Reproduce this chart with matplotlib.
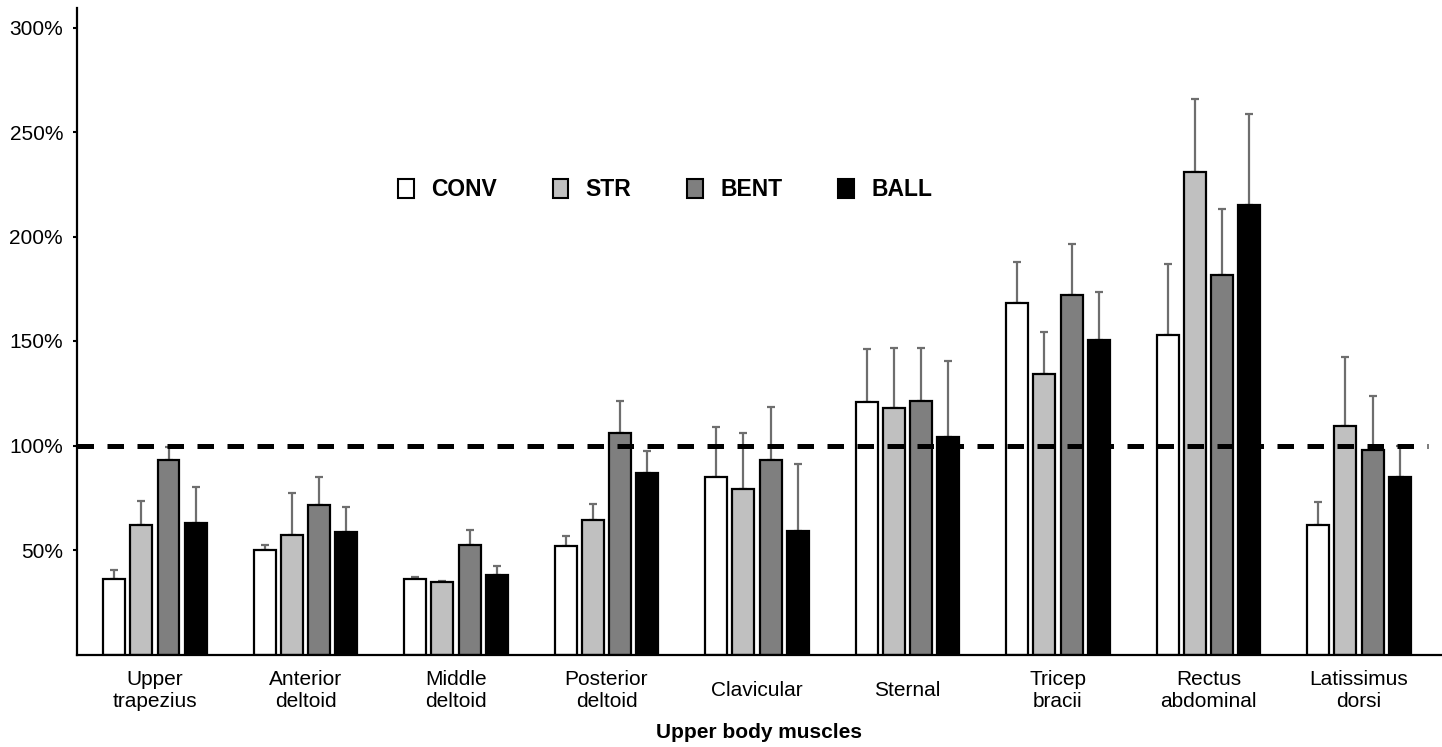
import numpy as np
import matplotlib
matplotlib.use('Agg')
import matplotlib.pyplot as plt
from matplotlib.patches import Rectangle
from matplotlib.ticker import FuncFormatter

plt.rcParams['font.family'] = ['Liberation Sans', 'DejaVu Sans']

# data (% values)
muscles = ['Upper\ntrapezius', 'Anterior\ndeltoid', 'Middle\ndeltoid', 'Posterior\ndeltoid',
           'Clavicular', 'Sternal', 'Tricep\nbracii', 'Rectus\nabdominal', 'Latissimus\ndorsi']
series = ['CONV', 'STR', 'BENT', 'BALL']

conv = [36, 50, 36, 52, 85, 121, 168, 153, 62]
conv_err = [4.5, 2.5, 1, 4.5, 24, 25, 20, 34, 11]
strv = [62, 57, 34.5, 64.5, 79, 118, 134, 231, 109.5]
str_err = [11.5, 20.5, 0.8, 7.5, 27, 28.5, 20.5, 35, 33]
bent = [93, 71.5, 52.5, 106, 93, 121.5, 172, 181.5, 98]
bent_err = [6.5, 13.5, 7, 15.5, 25.5, 25, 24.5, 31.5, 25.5]
ball = [63, 58.5, 38, 87, 59, 104, 150.5, 215, 85]
ball_err = [17, 12, 4.5, 10.5, 32, 36.5, 23, 43.5, 15]

values = [conv, strv, bent, ball]
errors = [conv_err, str_err, bent_err, ball_err]
colors = ['white', '#c0c0c0', '#7f7f7f', 'black']

W, H = 1442, 747
fig = plt.figure(figsize=(W / 100, H / 100), dpi=100)
ax_l, ax_r, ax_b, ax_t = 77, 1442, 654.5, 8
ax = fig.add_axes([ax_l / W, (H - ax_b) / H, (ax_r - ax_l) / W, (ax_b - ax_t) / H])

x = np.arange(len(muscles))
pitch = 0.18
width = 0.146
for i, (vals, errs, col) in enumerate(zip(values, errors, colors)):
    pos = x + (i - 1.5) * pitch
    ax.bar(pos, vals, width=width, color=col, edgecolor='black', linewidth=1.6, zorder=2)
    ax.errorbar(pos, vals, yerr=[np.zeros(len(errs)), errs], fmt='none',
                ecolor='#6e6e6e', elinewidth=1.6, capsize=3, capthick=1.6, zorder=1)

# 100% reference line
ax.plot([-0.518, 8.46], [100, 100], color='black', lw=3.6,
        linestyle=(0, (3.3, 2.7)), zorder=3, solid_capstyle='butt')

ax.set_xlim(-0.518, (ax_r - 155) / 150.5)
ax.set_ylim(0, (ax_b - ax_t) / 2.09)
ax.set_yticks([50, 100, 150, 200, 250, 300])
ax.yaxis.set_major_formatter(FuncFormatter(lambda v, p: f'{int(v)}%'))
ax.set_xticks(x)
ax.set_xticklabels(muscles, fontsize=15, linespacing=1.15)
for lab in ax.get_xticklabels():
    lab.set_va('center')
ax.tick_params(axis='x', length=0, pad=26)
ax.tick_params(axis='y', length=3, width=1.5, pad=7, labelsize=15)

for s in ['top', 'right']:
    ax.spines[s].set_visible(False)
ax.spines['left'].set_linewidth(1.6)
ax.spines['bottom'].set_linewidth(1.6)

ax.set_xlabel('Upper body muscles', fontsize=15, fontweight='bold')
ax.xaxis.set_label_coords(0.5, -(723 - ax_b) / (ax_b - ax_t))
ax.xaxis.label.set_va('top')

handles = [Rectangle((0, 0), 1, 1, facecolor=c, edgecolor='black', linewidth=1.5) for c in colors]
ax.legend(handles, series, loc='center left', bbox_to_anchor=(398 / W, (H - 190) / H),
          bbox_transform=fig.transFigure, ncol=4, frameon=False, borderpad=0,
          borderaxespad=0, handlelength=0.68, handleheight=0.85, handletextpad=0.75,
          columnspacing=2.45, prop={'weight': 'bold', 'size': 16.5})

fig.savefig('out.png', dpi=100)
